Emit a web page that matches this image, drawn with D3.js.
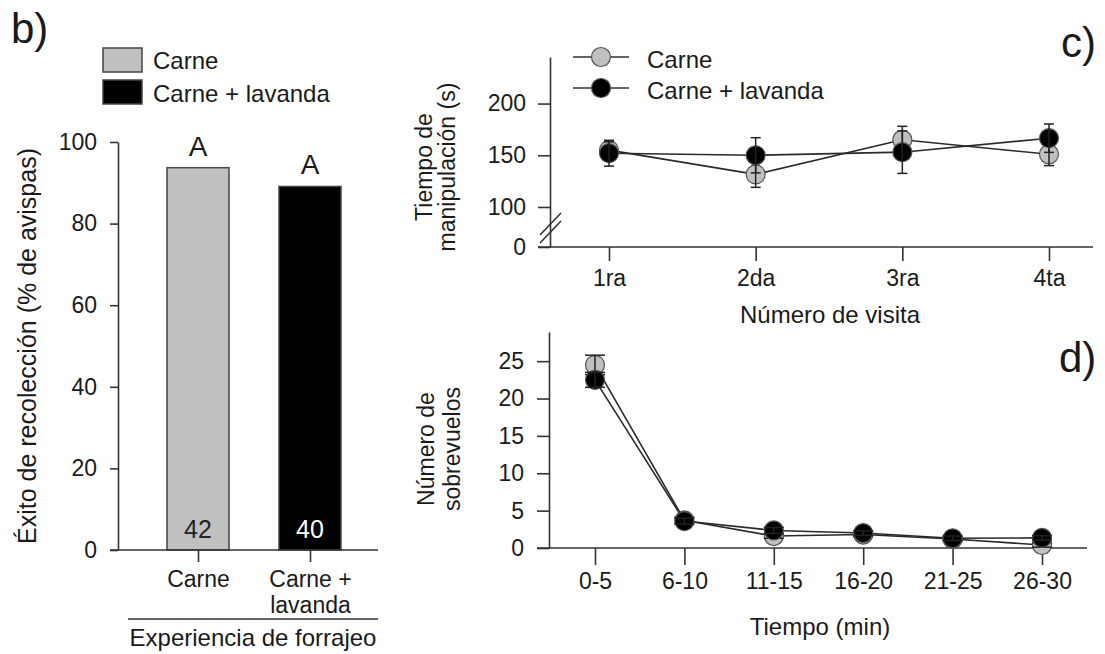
<!DOCTYPE html>
<html>
<head>
<meta charset="utf-8">
<script src="https://cdn.jsdelivr.net/npm/d3@7"></script>
<style>
  body { margin: 0; background: #fff; }
  svg text { font-family: "Liberation Sans", Arial, sans-serif; fill: #1a1a1a; }
  .axis path, .axis line { stroke: #333; stroke-width: 1.6; }
  .axis text { font-size: 23px; }
</style>
</head>
<body>
<div class="container"></div>
<script>
// panel b - bars
const barCats = ['Carne', 'Carne + lavanda'];
const barVals = [93.7, 89.1];
const barN = [42, 40];
const barLetters = ['A', 'A'];
const barTicks = [0, 20, 40, 60, 80, 100];

// panel c - tiempo de manipulacion
const visits = ['1ra', '2da', '3ra', '4ta'];
const tiempoCarne = [155, 131.5, 165, 151];
const tiempoCarneErr = [8, 12.5, 13, 11];
const tiempoLav = [152, 150, 153, 166.5];
const tiempoLavErr = [12.5, 17, 20.5, 13.7];
const tiempoTicks = [0, 100, 150, 200];

// panel d - sobrevuelos
const periods = ['0-5', '6-10', '11-15', '16-20', '21-25', '26-30'];
const vuelosCarne = [24.5, 3.7, 1.6, 1.8, 1.2, 0.4];
const vuelosCarneErr = [1.3, 0.4, 0.3, 0.3, 0.3, 0.3];
const vuelosLav = [22.5, 3.6, 2.35, 2.0, 1.3, 1.35];
const vuelosLavErr = [1.0, 0.4, 0.4, 0.3, 0.3, 0.3];
const vuelosTicks = [0, 5, 10, 15, 20, 25];

const grey = '#c0c0c0';
const width = 1105;
const height = 654;

const svg = d3.select('.container')
    .append('svg')
    .attr('width', width)
    .attr('height', height);

// ---------- b) ----------
svg.append('text').attr('x', 11).attr('y', 43).style('font-size', '42px').text('b)');

// legend
const legB = svg.append('g');
legB.selectAll('rect')
    .data(barCats)
    .enter()
    .append('rect')
    .attr('x', 103)
    .attr('y', (d, i) => 48 + i * 32)
    .attr('width', 39)
    .attr('height', 24)
    .attr('fill', (d, i) => i == 0 ? grey : '#000')
    .attr('stroke', '#444')
    .attr('stroke-width', 1.5);
legB.selectAll('text')
    .data(barCats)
    .enter()
    .append('text')
    .attr('x', 153)
    .attr('y', (d, i) => 69 + i * 33)
    .style('font-size', '24px')
    .text(d => d);

const yB = d3.scaleLinear().domain([0, 100]).range([550, 142]);
const xB = d3.scalePoint().domain(barCats).range([198, 310]);
const barW = 62;

svg.selectAll('.bar')
    .data(barVals)
    .enter()
    .append('rect')
    .attr('class', 'bar')
    .attr('x', (d, i) => xB(barCats[i]) - barW / 2)
    .attr('y', d => yB(d))
    .attr('width', barW)
    .attr('height', d => yB(0) - yB(d))
    .attr('fill', (d, i) => i == 0 ? grey : '#000')
    .attr('stroke', '#444')
    .attr('stroke-width', 1.5);

svg.selectAll('.letter')
    .data(barVals)
    .enter()
    .append('text')
    .attr('class', 'letter')
    .attr('x', (d, i) => xB(barCats[i]))
    .attr('y', d => yB(d) - 12)
    .attr('text-anchor', 'middle')
    .style('font-size', '28px')
    .text((d, i) => barLetters[i]);

svg.selectAll('.nlab')
    .data(barN)
    .enter()
    .append('text')
    .attr('class', 'nlab')
    .attr('x', (d, i) => xB(barCats[i]))
    .attr('y', 538)
    .attr('text-anchor', 'middle')
    .style('font-size', '25px')
    .style('fill', (d, i) => i == 0 ? '#222' : '#fff')
    .text(d => d);

svg.append('g')
    .attr('class', 'axis')
    .attr('transform', 'translate(118,0)')
    .call(d3.axisLeft(yB).tickValues(barTicks).tickSize(8).tickSizeOuter(0).tickPadding(13));

const xAxB = svg.append('g')
    .attr('class', 'axis')
    .attr('transform', 'translate(0,550)')
    .call(d3.axisBottom(xB).tickSize(12).tickSizeOuter(0).tickFormat(''));
xAxB.select('.domain').remove();
xAxB.append('line').attr('x1', 110).attr('x2', 378);
xAxB.selectAll('.tick').append('text')
    .attr('text-anchor', 'middle')
    .style('font-size', '23px')
    .style('fill', '#1a1a1a')
    .selectAll('tspan')
    .data(d => d == 'Carne' ? ['Carne'] : ['Carne +', 'lavanda'])
    .enter()
    .append('tspan')
    .attr('x', 0)
    .attr('y', (d, i) => 37 + i * 26)
    .text(d => d);

svg.append('line')
    .attr('x1', 128).attr('x2', 378)
    .attr('y1', 619).attr('y2', 619)
    .attr('stroke', '#333').attr('stroke-width', 1.6);
svg.append('text')
    .attr('x', 253).attr('y', 646)
    .attr('text-anchor', 'middle')
    .style('font-size', '24px')
    .text('Experiencia de forrajeo');

svg.append('text')
    .attr('transform', 'translate(36,346) rotate(-90)')
    .attr('text-anchor', 'middle')
    .style('font-size', '25px')
    .text('Éxito de recolección (% de avispas)');

// ---------- helper for line + error panels ----------
// error bars go on top of the circles, like in the original figure
function drawSeries(g, x, y, cats, vals, errs, fill, r, cap) {
    const line = d3.line().x((d, i) => x(cats[i])).y(d => y(d));
    g.append('path')
        .datum(vals)
        .attr('d', line)
        .attr('fill', 'none')
        .attr('stroke', '#2a2a2a')
        .attr('stroke-width', 1.6);
    g.selectAll('circle.pt' + fill.slice(1))
        .data(vals)
        .enter()
        .append('circle')
        .attr('class', 'pt' + fill.slice(1))
        .attr('cx', (d, i) => x(cats[i]))
        .attr('cy', d => y(d))
        .attr('r', r)
        .attr('fill', fill)
        .attr('stroke', '#555')
        .attr('stroke-width', 1.2);
    const eb = g.append('g').attr('stroke', '#222').attr('stroke-width', 1.5);
    vals.forEach((v, i) => {
        const cx = x(cats[i]);
        eb.append('line').attr('x1', cx).attr('x2', cx).attr('y1', y(v - errs[i])).attr('y2', y(v + errs[i]));
        eb.append('line').attr('x1', cx - cap).attr('x2', cx + cap).attr('y1', y(v + errs[i])).attr('y2', y(v + errs[i]));
        eb.append('line').attr('x1', cx - cap).attr('x2', cx + cap).attr('y1', y(v - errs[i])).attr('y2', y(v - errs[i]));
    });
}

// ---------- c) ----------
svg.append('text').attr('x', 1061).attr('y', 57).style('font-size', '42px').text('c)');

const yC = d3.scaleLinear().domain([0, 100, 245]).range([247, 207, 57]);
const xC = d3.scalePoint().domain(visits).range([609, 1049]);

svg.append('g')
    .attr('class', 'axis')
    .attr('transform', 'translate(550,0)')
    .call(d3.axisLeft(yC).tickValues(tiempoTicks).tickSize(12).tickSizeOuter(0).tickPadding(12));

const xAxC = svg.append('g')
    .attr('class', 'axis')
    .attr('transform', 'translate(0,247)')
    .call(d3.axisBottom(xC).tickSize(14).tickSizeOuter(0).tickPadding(9));
xAxC.select('.domain').remove();
xAxC.append('line').attr('x1', 538).attr('x2', 1093);

// axis break
const brk = svg.append('g').attr('stroke', '#333').attr('stroke-width', 1.6);
[0, 8].forEach(o => {
    brk.append('line').attr('x1', 540).attr('y1', 235 + o).attr('x2', 561).attr('y2', 213 + o);
});

const gC = svg.append('g');
drawSeries(gC, xC, yC, visits, tiempoCarne, tiempoCarneErr, grey, 9.5, 5);
drawSeries(gC, xC, yC, visits, tiempoLav, tiempoLavErr, '#000', 9.5, 5);

// legend c
const legC = svg.append('g');
['Carne', 'Carne + lavanda'].forEach((name, i) => {
    const ly = 57 + i * 31;
    legC.append('line').attr('x1', 573).attr('x2', 629).attr('y1', ly).attr('y2', ly)
        .attr('stroke', '#333').attr('stroke-width', 1.6);
    legC.append('circle').attr('cx', 601).attr('cy', ly).attr('r', 9.5)
        .attr('fill', i == 0 ? grey : '#000').attr('stroke', '#555').attr('stroke-width', 1.2);
    legC.append('text').attr('x', 647).attr('y', ly + 11).style('font-size', '24px').text(name);
});

svg.append('text').attr('x', 830).attr('y', 323).attr('text-anchor', 'middle')
    .style('font-size', '24px').text('Número de visita');
svg.append('text').attr('transform', 'translate(432,167) rotate(-90)').attr('text-anchor', 'middle')
    .style('font-size', '23px').text('Tiempo de');
svg.append('text').attr('transform', 'translate(455,167) rotate(-90)').attr('text-anchor', 'middle')
    .style('font-size', '23px').text('manipulación (s)');

// ---------- d) ----------
svg.append('text').attr('x', 1059).attr('y', 372).style('font-size', '42px').text('d)');

const yD = d3.scaleLinear().domain([0, 28.9]).range([548, 332]);
const xD = d3.scalePoint().domain(periods).range([595, 1042]);

svg.append('g')
    .attr('class', 'axis')
    .attr('transform', 'translate(549,0)')
    .call(d3.axisLeft(yD).tickValues(vuelosTicks).tickSize(12).tickSizeOuter(0).tickPadding(13));

const xAxD = svg.append('g')
    .attr('class', 'axis')
    .attr('transform', 'translate(0,548)')
    .call(d3.axisBottom(xD).tickSize(17).tickSizeOuter(0).tickPadding(8));
xAxD.select('.domain').remove();
xAxD.append('line').attr('x1', 537).attr('x2', 1087);

const gD = svg.append('g');
drawSeries(gD, xD, yD, periods, vuelosCarne, vuelosCarneErr, grey, 9.5, 10);
drawSeries(gD, xD, yD, periods, vuelosLav, vuelosLavErr, '#000', 9.5, 10);

svg.append('text').attr('x', 820).attr('y', 635).attr('text-anchor', 'middle')
    .style('font-size', '24px').text('Tiempo (min)');
svg.append('text').attr('transform', 'translate(434,449) rotate(-90)').attr('text-anchor', 'middle')
    .style('font-size', '23px').text('Número de');
svg.append('text').attr('transform', 'translate(460,449) rotate(-90)').attr('text-anchor', 'middle')
    .style('font-size', '23px').text('sobrevuelos');
</script>
</body>
</html>
